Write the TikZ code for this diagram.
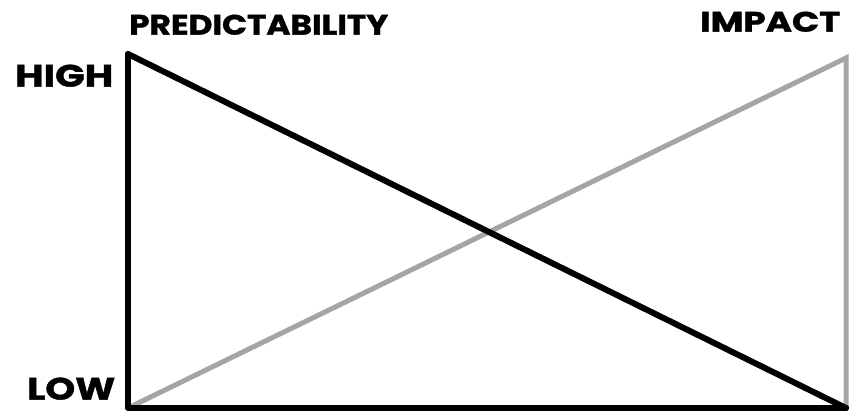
\documentclass[tikz,border=0pt]{standalone}
\usepackage{fontspec}
\setmainfont{Poppins}[BoldFeatures={FakeBold=1.2}]
\newcommand{\fitlbl}[3]{\resizebox{#1}{#2}{\bfseries #3}}
\tikzset{
  lbl/.style={font=\fontsize{24}{24}\selectfont, inner sep=0pt, anchor=south west},
  blk/.style={line width=6pt, black, line cap=round},
  gry/.style={line width=5pt, color={rgb,255:red,165;green,165;blue,165}, line cap=round},
}
\begin{document}
\begin{tikzpicture}[x=1pt,y=-1pt]
\useasboundingbox (0,0) rectangle (851,417);
\fill[white] (0,0) rectangle (851,417);
\coordinate (TL) at (128,54);
\coordinate (BL) at (128,408);
\coordinate (BR) at (846,408);
\coordinate (TR) at (846,58);
\draw[gry] (BL) -- (TR) -- (BR);
\draw[blk, line join=round] (TL) -- (BL) -- (BR);
\draw[blk] (TL) -- (BR);
\node[lbl] (pred) at (129,35) {\fitlbl{259pt}{20pt}{PREDICTABILITY}};
\node[lbl] (imp) at (700,32) {\fitlbl{140pt}{20pt}{IMPACT}};
\node[lbl] (hi) at (15,87) {\fitlbl{98pt}{22pt}{HIGH}};
\node[lbl] (lo) at (27,400) {\fitlbl{88pt}{22pt}{LOW}};
\end{tikzpicture}
\end{document}
